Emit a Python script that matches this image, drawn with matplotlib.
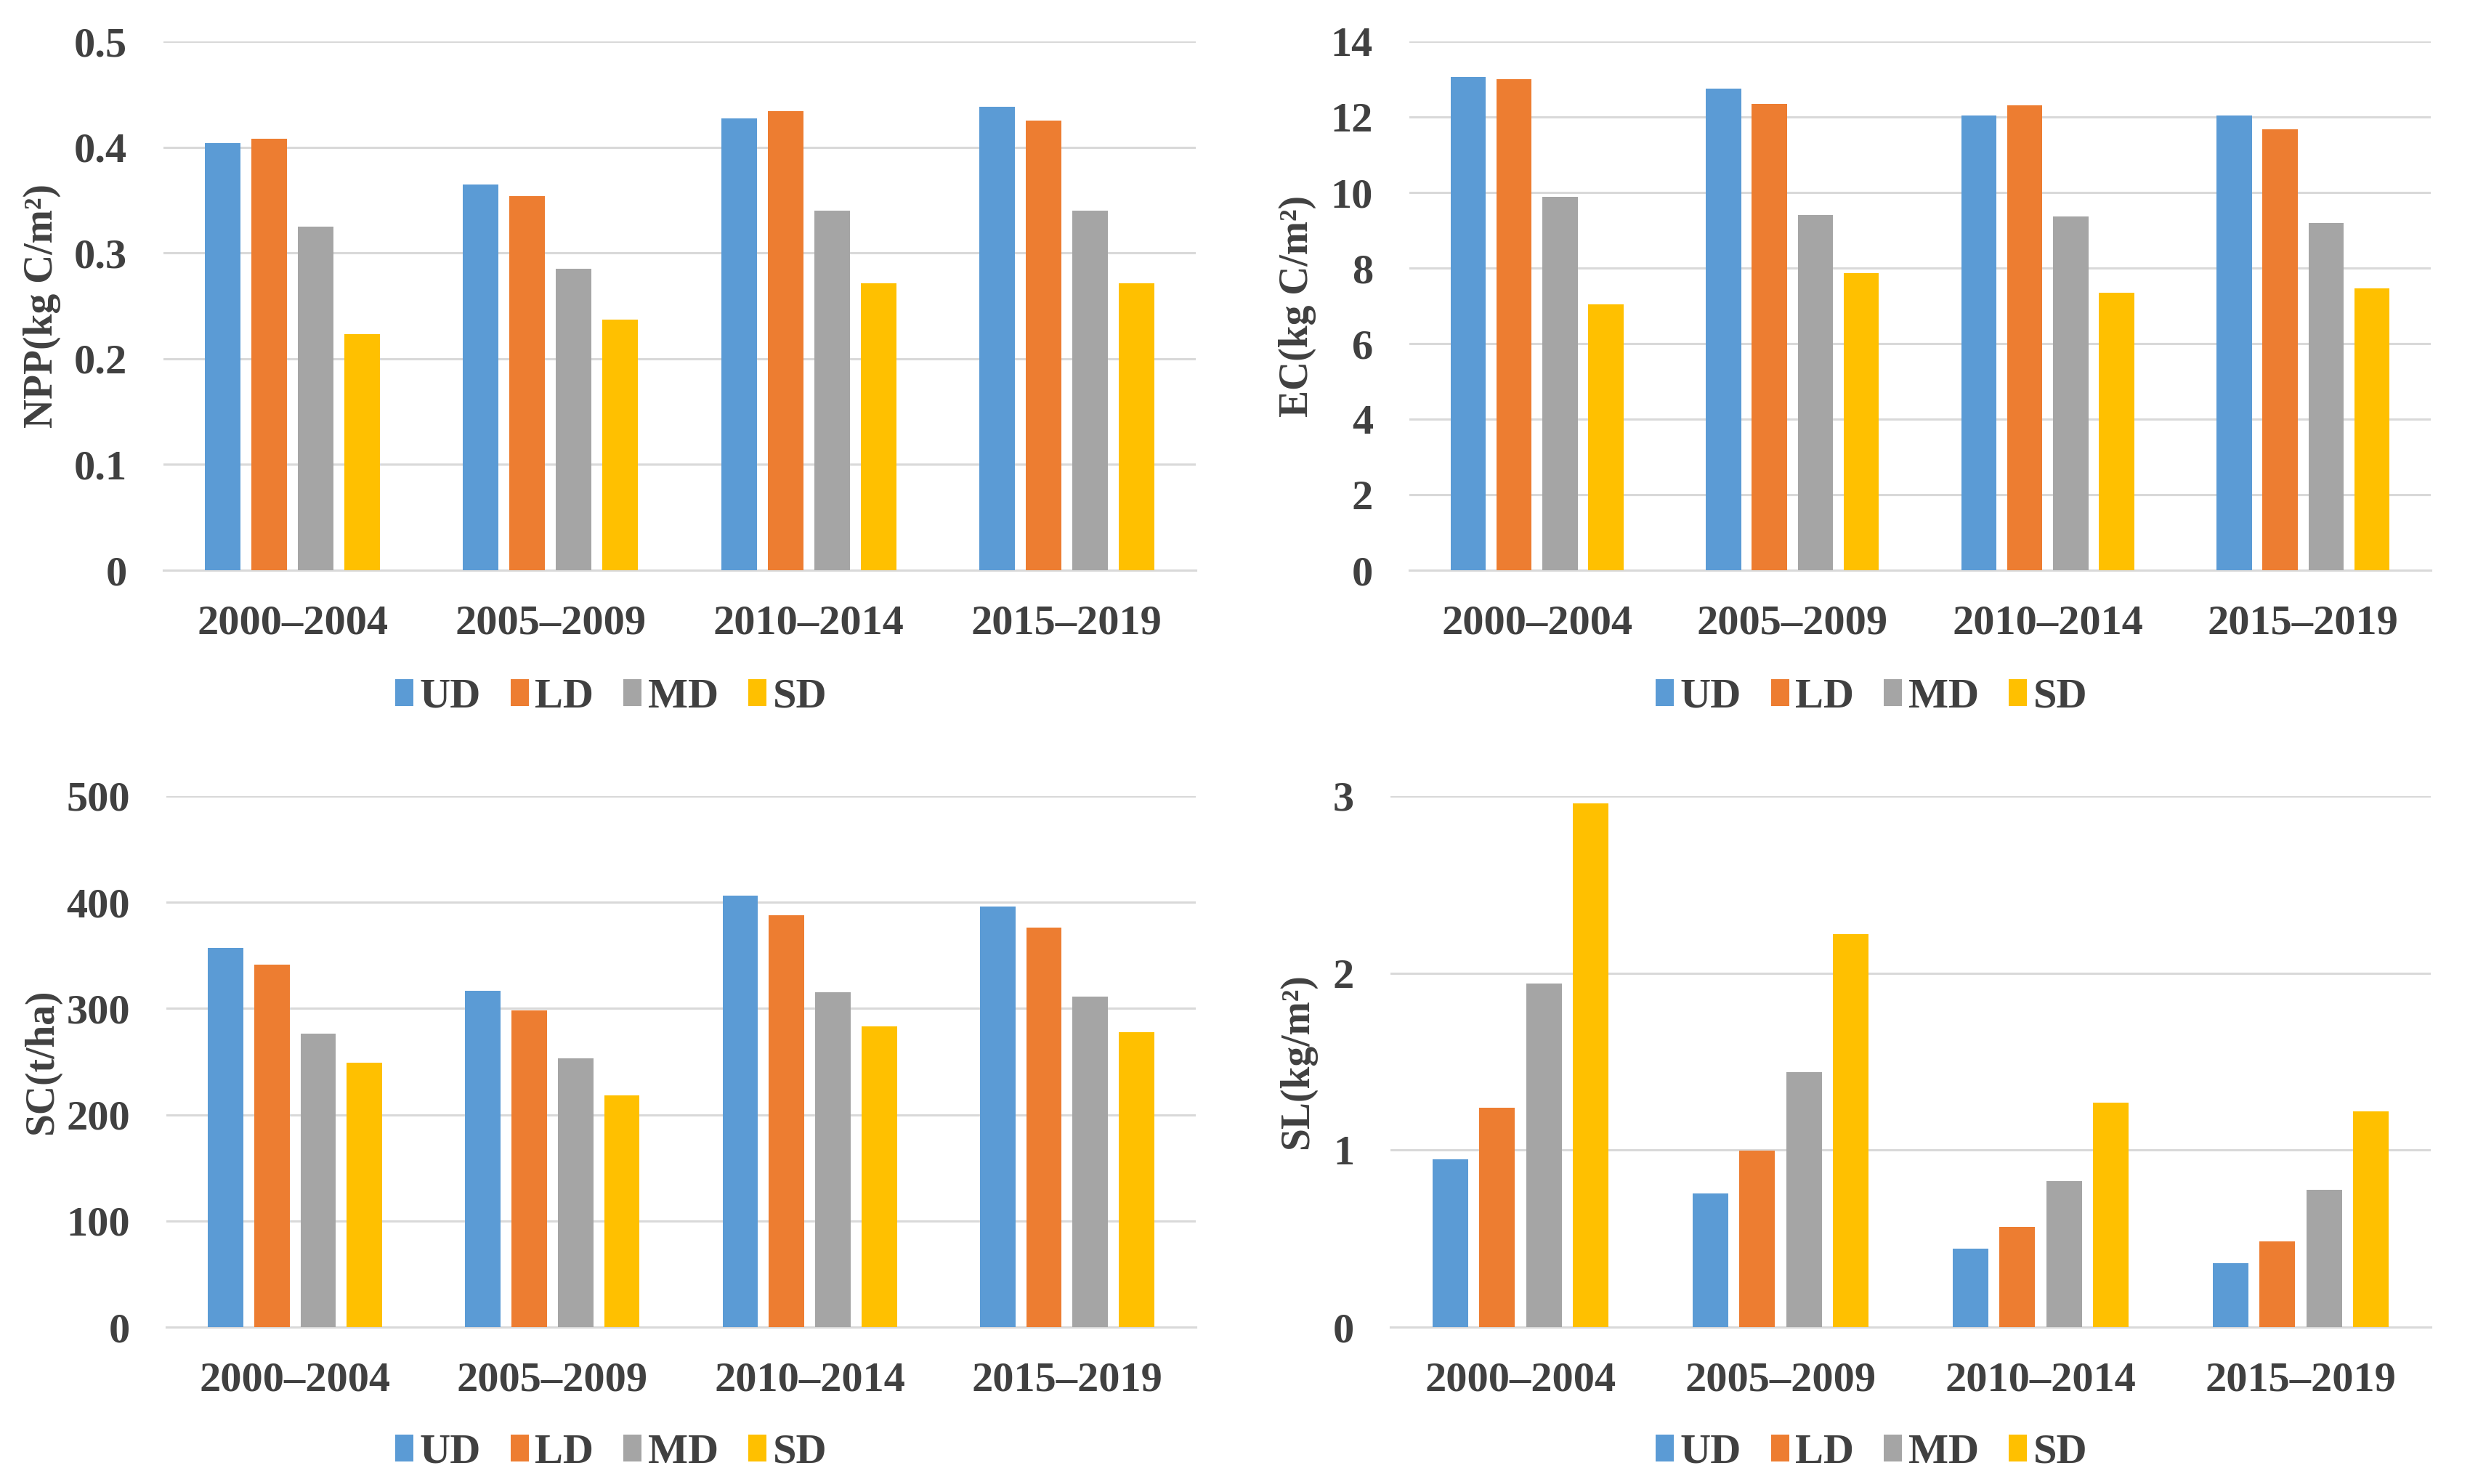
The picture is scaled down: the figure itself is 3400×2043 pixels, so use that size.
import matplotlib
matplotlib.use("Agg")
import matplotlib.pyplot as plt
import numpy as np
from matplotlib.ticker import FuncFormatter, MultipleLocator


periods = ["2000–2004", "2005–2009", "2010–2014", "2015–2019"]
classes = ["UD", "LD", "MD", "SD"]
colors = ["#5B9BD5", "#ED7D31", "#A5A5A5", "#FFC000"]

# values per class, one entry per period
npp_ud = [0.404, 0.365, 0.427, 0.438]
npp_ld = [0.408, 0.354, 0.434, 0.425]
npp_md = [0.325, 0.285, 0.340, 0.340]
npp_sd = [0.223, 0.237, 0.271, 0.271]

ec_ud = [13.05, 12.75, 12.04, 12.04]
ec_ld = [13.00, 12.35, 12.30, 11.67]
ec_md = [9.89, 9.41, 9.37, 9.19]
ec_sd = [7.03, 7.86, 7.35, 7.47]

sc_ud = [357, 317, 406, 396]
sc_ld = [341, 298, 388, 376]
sc_md = [276, 253, 315, 311]
sc_sd = [249, 218, 283, 278]

sl_ud = [0.947, 0.755, 0.445, 0.362]
sl_ld = [1.24, 0.996, 0.568, 0.486]
sl_md = [1.94, 1.44, 0.823, 0.774]
sl_sd = [2.96, 2.22, 1.27, 1.22]

TEXT = "#404040"
GRID = "#D9D9D9"
W, H = 3400, 2043

plt.rcParams["font.family"] = ["Liberation Serif", "DejaVu Serif"]
plt.rcParams["font.weight"] = "bold"

fig = plt.figure(figsize=(W / 100, H / 100), dpi=100)

panels = [
    # (x0, x1, y_top, y_bottom) in pixels, series, ylabel, ymax, step, ylabel_x, legend center
    ((225, 1646, 57, 785), [npp_ud, npp_ld, npp_md, npp_sd], "NPP(kg C/m²)", 0.5, 0.1, 58, (841, 960)),
    ((1940, 3346, 57, 785), [ec_ud, ec_ld, ec_md, ec_sd], "EC(kg C/m²)", 14, 2, 1786, (2576, 960)),
    ((229, 1646, 1096, 1827), [sc_ud, sc_ld, sc_md, sc_sd], "SC(t/ha)", 500, 100, 58, (841, 2000)),
    ((1914, 3346, 1096, 1827), [sl_ud, sl_ld, sl_md, sl_sd], "SL(kg/m²)", 3, 1, 1786, (2576, 2000)),
]

x = np.arange(len(periods))
pitch = 0.18
width = 0.138

for (x0, x1, yt, yb), series, ylabel, ymax, step, lab_x, (lx, ly) in panels:
    ax = fig.add_axes([x0 / W, 1 - yb / H, (x1 - x0) / W, (yb - yt) / H])
    handles = []
    for i, (vals, name, col) in enumerate(zip(series, classes, colors)):
        b = ax.bar(x + (i - 1.5) * pitch, vals, width, color=col, label=name, zorder=3)
        handles.append(b)

    ax.set_xlim(-0.5, len(periods) - 0.5)
    ax.set_ylim(0, ymax)
    ax.yaxis.set_major_locator(MultipleLocator(step))
    ax.yaxis.set_major_formatter(FuncFormatter(lambda v, p: f"{v:g}"))
    ax.set_xticks(x)
    ax.set_xticklabels(periods)

    ax.grid(axis="y", color=GRID, linewidth=2.2, zorder=0)
    for s in ["top", "right", "left"]:
        ax.spines[s].set_visible(False)
    ax.spines["bottom"].set_color(GRID)
    ax.spines["bottom"].set_linewidth(2.2)
    ax.tick_params(axis="both", length=0, labelcolor=TEXT, labelsize=42)
    ax.tick_params(axis="y", pad=36)
    ax.tick_params(axis="x", pad=34)

    fig.text(lab_x / W, 1 - ((yt + yb) / 2) / H, ylabel, rotation=90,
             ha="center", va="center", fontsize=40, color=TEXT, fontweight="bold")

    fig.legend(handles=handles, labels=classes, loc="center",
               bbox_to_anchor=(lx / W, 1 - ly / H), ncol=4, frameon=False,
               fontsize=42, labelcolor=TEXT, handlelength=0.43, handleheight=0.6,
               handletextpad=0.15, columnspacing=0.7)

fig.savefig("out.png", dpi=100, facecolor="white")
plt.close(fig)
